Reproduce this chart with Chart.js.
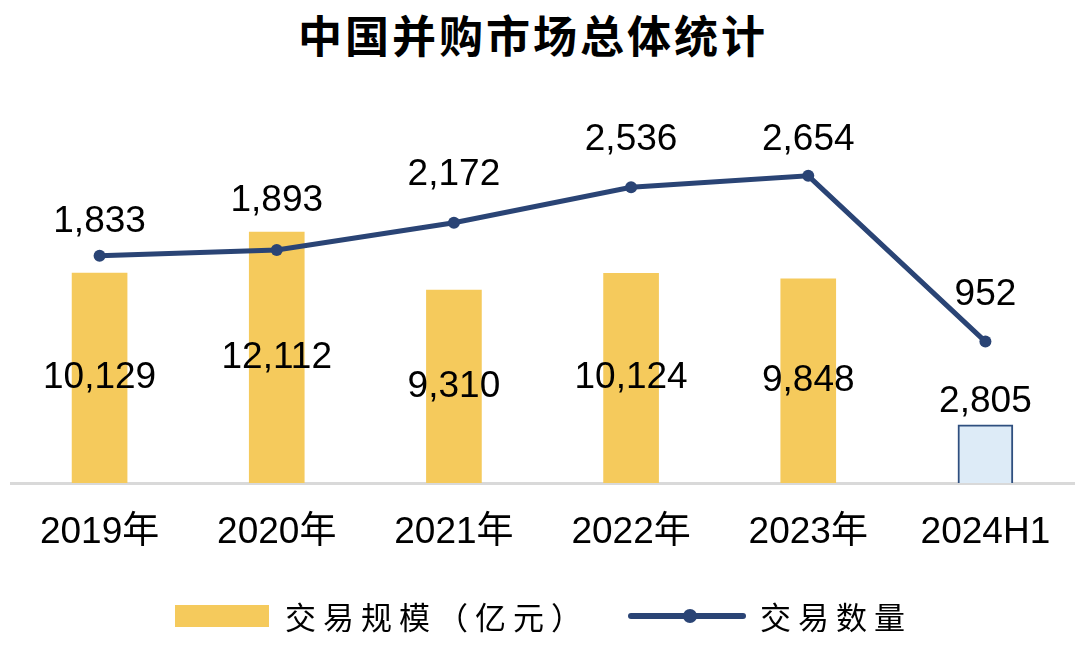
<!DOCTYPE html>
<html>
<head>
<meta charset="utf-8">
<script src="https://cdn.jsdelivr.net/npm/chart.js@4.4.1/dist/chart.umd.min.js"></script>
<style>
  html, body { margin: 0; padding: 0; background: #fff; }
  #wrap { position: relative; width: 1080px; height: 645px; overflow: hidden; }
  #chart { position: absolute; left: 0; top: 0; }
  .title {
    position: absolute; left: 298px; top: 6px; white-space: nowrap;
    font: bold 44px "Noto Sans CJK SC", sans-serif; letter-spacing: 3px; color: #000; line-height: 56px;
  }
  .leg { position: absolute; font: 31px "Noto Sans CJK SC", sans-serif; letter-spacing: 7px; color: #000; line-height: 40px; top: 596px; white-space: nowrap; }
  .swatch-bar { position: absolute; left: 175px; top: 605px; width: 94px; height: 22px; background: #F5CA5C; }
  .swatch-line { position: absolute; left: 628px; top: 613px; width: 118px; height: 6px; border-radius: 3px; background: #2A4475; }
  .swatch-dot { position: absolute; left: 683px; top: 609px; width: 14px; height: 14px; border-radius: 7px; background: #2A4475; }
</style>
</head>
<body>
<div id="wrap">
  <div class="title">中国并购市场总体统计</div>
  <canvas id="chart" width="1080" height="645"></canvas>
  <div class="swatch-bar"></div>
  <div class="leg" style="left:285px">交易规模（亿元）</div>
  <div class="swatch-line"></div>
  <div class="swatch-dot"></div>
  <div class="leg" style="left:760px">交易数量</div>
</div>
<script>
  const categories = ['2019年', '2020年', '2021年', '2022年', '2023年', '2024H1'];
  const dealValue = [10129, 12112, 9310, 10124, 9848, 2805];   // 交易规模（亿元）
  const dealCount = [1833, 1893, 2172, 2536, 2654, 952];       // 交易数量

  const YELLOW = '#F5CA5C';
  const NAVY = '#2A4475';
  const LAST_FILL = '#DDEBF7';
  const LAST_BORDER = '#2F4F7F';

  // label offsets above the line points (px), styling only
  const lineLabelLift = [34, 49, 48, 48, 36, 47];

  const fmt = v => v.toLocaleString('en-US');

  const valueLabels = {
    id: 'valueLabels',
    afterDatasetsDraw(chart) {
      const ctx = chart.ctx;
      ctx.save();
      ctx.fillStyle = '#000';
      ctx.font = '37px "Liberation Sans", Arial, sans-serif';
      ctx.textAlign = 'center';
      ctx.textBaseline = 'middle';
      const bars = chart.getDatasetMeta(0).data;
      bars.forEach((bar, i) => {
        const last = i === bars.length - 1;
        const y = last ? bar.y - 23 : (bar.y + bar.base) / 2;
        ctx.fillText(fmt(dealValue[i]), bar.x, y);
      });
      const pts = chart.getDatasetMeta(1).data;
      pts.forEach((p, i) => {
        ctx.fillText(fmt(dealCount[i]), p.x, p.y - lineLabelLift[i]);
      });
      ctx.restore();
    }
  };

  const lastIdx = categories.length - 1;

  new Chart(document.getElementById('chart'), {
    data: {
      labels: categories,
      datasets: [
        {
          type: 'bar',
          label: '交易规模（亿元）',
          data: dealValue,
          yAxisID: 'y',
          backgroundColor: dealValue.map((_, i) => i === lastIdx ? LAST_FILL : YELLOW),
          borderColor: dealValue.map((_, i) => i === lastIdx ? LAST_BORDER : YELLOW),
          borderWidth: dealValue.map((_, i) => i === lastIdx ? 2 : 0),
          borderSkipped: 'bottom',
          barThickness: 55,
          order: 2,
        },
        {
          type: 'line',
          label: '交易数量',
          data: dealCount,
          yAxisID: 'y1',
          borderColor: NAVY,
          backgroundColor: NAVY,
          borderWidth: 5,
          pointRadius: 6,
          pointBackgroundColor: NAVY,
          pointBorderWidth: 0,
          tension: 0,
          order: 1,
        },
      ],
    },
    options: {
      responsive: false,
      animation: false,
      layout: { padding: { top: 110, left: 11, right: 0, bottom: 0 } },
      plugins: { legend: { display: false }, title: { display: false }, tooltip: { enabled: false } },
      scales: {
        x: {
          grid: { display: false, drawTicks: false },
          border: { display: true, color: '#D9D9D9', width: 3 },
          ticks: {
            color: '#000',
            padding: 28,
            font: { family: '"Liberation Sans", "Noto Sans CJK SC", Arial, sans-serif', size: 37 },
          },
          afterFit: s => { s.height = 162; },
        },
        y: { display: false, min: 0, max: 18000 },
        y1: { display: false, min: -500, max: 3330 },
      },
    },
    plugins: [valueLabels],
  });
</script>
</body>
</html>
